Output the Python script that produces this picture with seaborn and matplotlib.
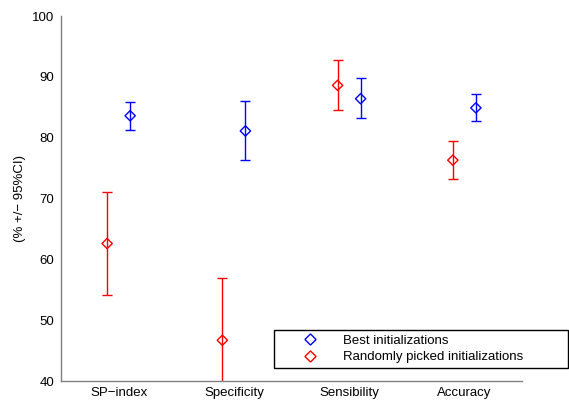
import numpy as np
import pandas as pd
import seaborn as sns
import matplotlib
matplotlib.use("Agg")
import matplotlib.pyplot as plt
from matplotlib.lines import Line2D

categories = ["SP\u2212index", "Specificity", "Sensibility", "Accuracy"]
best_mean = [83.6, 81.1, 86.4, 84.9]
best_low = [81.3, 76.3, 83.2, 82.8]
best_high = [85.9, 86.0, 89.8, 87.1]
rand_mean = [62.6, 46.7, 88.6, 76.3]
rand_low = [54.1, 36.4, 84.5, 73.2]
rand_high = [71.1, 57.0, 92.7, 79.5]
series_labels = ["Best initializations", "Randomly picked initializations"]
yticks = [40, 50, 60, 70, 80, 90, 100]

sns.set_style("white")
plt.rcParams["font.family"] = ["Liberation Sans", "DejaVu Sans"]
plt.rcParams["font.size"] = 9.5
plt.rcParams["text.color"] = "black"
plt.rcParams["axes.labelcolor"] = "black"

fig = plt.figure(figsize=(5.69, 4.0), dpi=100)
ax = fig.add_axes([61/569, 1-381/400, 461/569, 365/400])

x = np.arange(1, len(categories) + 1)
off = 0.1
series = [
    (best_mean, best_low, best_high, "#0000ff", +off),
    (rand_mean, rand_low, rand_high, "#ff0000", -off),
]
for mean, lo, hi, col, d in series:
    mean = np.array(mean); lo = np.array(lo); hi = np.array(hi)
    ax.errorbar(x + d, mean, yerr=[mean - lo, hi - mean], fmt="none",
                ecolor=col, elinewidth=1.0, capsize=3.5, capthick=1.0, zorder=2)
    df = pd.DataFrame({"x": x + d, "y": mean})
    sns.scatterplot(data=df, x="x", y="y", marker=(4, 0, 0), s=55,
                    facecolor="none", edgecolor=col, linewidth=1.0, ax=ax, zorder=3)

ax.set_xlim(0.5, 4.5)
ax.set_ylim(40, 100)
ax.set_xticks(x)
ax.set_xticklabels(categories)
ax.set_yticks(yticks)
ax.set_xlabel("")
ax.set_ylabel("(% +/\u2212 95%CI)", fontsize=9.5, labelpad=4)
ax.tick_params(direction="in", length=4, width=0.8, colors="black", labelsize=9.5)
ax.tick_params(axis="x", pad=4)
ax.tick_params(axis="y", pad=5)
for s in ["top", "right"]:
    ax.spines[s].set_visible(False)
for s in ["left", "bottom"]:
    ax.spines[s].set_color("#808080")
    ax.spines[s].set_linewidth(1.0)

handles = [Line2D([], [], marker=(4, 0, 0), linestyle="none", markersize=8,
                  markerfacecolor="none", markeredgecolor=c, markeredgewidth=1.0)
           for c in ["#0000ff", "#ff0000"]]
leg = ax.legend(handles, series_labels, loc="lower left",
                bbox_to_anchor=(0.462, 0.0356, 0.638, 0.112), mode="expand",
                borderaxespad=0, frameon=True, fancybox=False, edgecolor="black",
                framealpha=1, handlelength=4.8, handletextpad=0.1,
                labelspacing=0.35, borderpad=0.35, fontsize=9.5)
leg.get_frame().set_linewidth(1.0)

fig.savefig("out.png", dpi=100)
